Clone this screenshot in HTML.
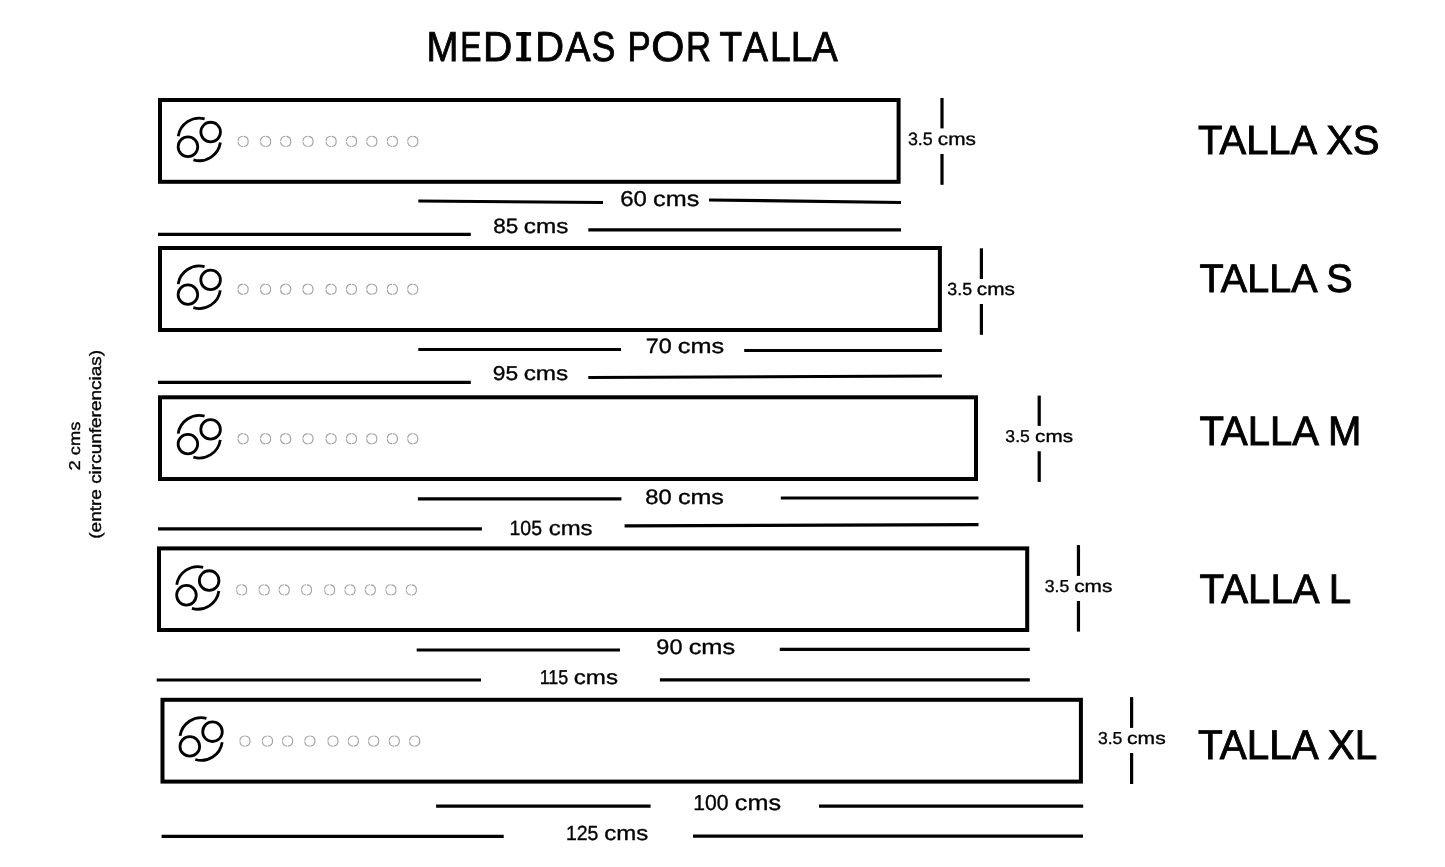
<!DOCTYPE html><html><head><meta charset="utf-8"><style>html,body{margin:0;padding:0;background:#fff;}svg{display:block}.texts{opacity:0.999}text{font-family:"Liberation Sans",sans-serif;fill:#000;text-rendering:geometricPrecision}</style></head><body>
<svg width="1445" height="867" viewBox="0 0 1445 867">
<g class="shapes">
<rect x="160.00" y="100.00" width="738.60" height="81.80" fill="none" stroke="#000" stroke-width="4"/>
<rect x="160.00" y="248.00" width="779.90" height="82.00" fill="none" stroke="#000" stroke-width="4"/>
<rect x="160.00" y="397.30" width="816.00" height="81.70" fill="none" stroke="#000" stroke-width="4"/>
<rect x="159.00" y="548.40" width="868.20" height="81.60" fill="none" stroke="#000" stroke-width="4"/>
<rect x="162.50" y="699.80" width="918.40" height="81.80" fill="none" stroke="#000" stroke-width="4"/>
<rect x="940.40" y="98.00" width="3.2" height="30.40" fill="#000"/><rect x="940.40" y="154.00" width="3.2" height="30.80" fill="#000"/>
<rect x="979.80" y="248.30" width="3.2" height="30.70" fill="#000"/><rect x="979.80" y="304.00" width="3.2" height="30.80" fill="#000"/>
<rect x="1037.60" y="395.60" width="3.2" height="30.30" fill="#000"/><rect x="1037.60" y="451.30" width="3.2" height="30.60" fill="#000"/>
<rect x="1076.85" y="545.10" width="3.2" height="30.80" fill="#000"/><rect x="1076.85" y="601.00" width="3.2" height="30.60" fill="#000"/>
<rect x="1130.00" y="697.10" width="3.2" height="30.80" fill="#000"/><rect x="1130.00" y="753.00" width="3.2" height="31.00" fill="#000"/>
<line x1="418.3" y1="201" x2="603" y2="202.5" stroke="#000" stroke-width="3.2"/>
<line x1="709" y1="200" x2="901" y2="202.5" stroke="#000" stroke-width="3.2"/>
<line x1="158" y1="234.4" x2="470.8" y2="234.4" stroke="#000" stroke-width="3.2"/>
<line x1="588.3" y1="229.9" x2="901" y2="229.9" stroke="#000" stroke-width="3.2"/>
<line x1="418.3" y1="349.5" x2="621" y2="349.5" stroke="#000" stroke-width="3.2"/>
<line x1="744.2" y1="350.5" x2="941.9" y2="350.5" stroke="#000" stroke-width="3.2"/>
<line x1="158" y1="382.3" x2="470.8" y2="382.3" stroke="#000" stroke-width="3.2"/>
<line x1="588.3" y1="377.5" x2="941.9" y2="376" stroke="#000" stroke-width="3.2"/>
<line x1="417.9" y1="498.9" x2="621.4" y2="498.9" stroke="#000" stroke-width="3.2"/>
<line x1="780.8" y1="498" x2="978.5" y2="498" stroke="#000" stroke-width="3.2"/>
<line x1="158" y1="528.9" x2="481.9" y2="528.9" stroke="#000" stroke-width="3.2"/>
<line x1="624.6" y1="525.9" x2="978.5" y2="524.6" stroke="#000" stroke-width="3.2"/>
<line x1="416.7" y1="650" x2="620" y2="650" stroke="#000" stroke-width="3.2"/>
<line x1="779.8" y1="649.3" x2="1029.8" y2="649.3" stroke="#000" stroke-width="3.2"/>
<line x1="156.7" y1="680" x2="481" y2="680" stroke="#000" stroke-width="3.2"/>
<line x1="659.9" y1="679.8" x2="1029.8" y2="679.8" stroke="#000" stroke-width="3.2"/>
<line x1="436.1" y1="806.2" x2="650.6" y2="806.2" stroke="#000" stroke-width="3.2"/>
<line x1="819" y1="806.2" x2="1083.2" y2="806.2" stroke="#000" stroke-width="3.2"/>
<line x1="161.6" y1="836.4" x2="503.7" y2="836.4" stroke="#000" stroke-width="3.2"/>
<line x1="693" y1="836.1" x2="1083" y2="836.1" stroke="#000" stroke-width="3.2"/>
<g fill="none" stroke="#000" stroke-width="2.8"><path d="M178.23 136.25A21.3 21.3 0 0 1 204.63 118.78 M220.37 142.55A21.3 21.3 0 0 1 193.43 159.87" /><circle cx="210.65" cy="132.05" r="9.8"/><circle cx="187.95" cy="146.75" r="9.8"/></g>
<g fill="none" stroke="#a0a0a0" stroke-width="1.1" stroke-dasharray="7.2 0.8"><circle cx="243.10" cy="141.40" r="5.1"/><circle cx="265.60" cy="141.40" r="5.1"/><circle cx="285.70" cy="141.40" r="5.1"/><circle cx="308.00" cy="141.40" r="5.1"/><circle cx="331.10" cy="141.40" r="5.1"/><circle cx="351.50" cy="141.40" r="5.1"/><circle cx="371.80" cy="141.40" r="5.1"/><circle cx="392.40" cy="141.40" r="5.1"/><circle cx="412.80" cy="141.40" r="5.1"/></g>
<g fill="none" stroke="#000" stroke-width="2.8"><path d="M178.18 284.10A21.3 21.3 0 0 1 204.58 266.63 M220.32 290.40A21.3 21.3 0 0 1 193.38 307.72" /><circle cx="210.60" cy="279.90" r="9.8"/><circle cx="187.90" cy="294.60" r="9.8"/></g>
<g fill="none" stroke="#a0a0a0" stroke-width="1.1" stroke-dasharray="7.2 0.8"><circle cx="243.05" cy="289.25" r="5.1"/><circle cx="265.55" cy="289.25" r="5.1"/><circle cx="285.65" cy="289.25" r="5.1"/><circle cx="307.95" cy="289.25" r="5.1"/><circle cx="331.05" cy="289.25" r="5.1"/><circle cx="351.45" cy="289.25" r="5.1"/><circle cx="371.75" cy="289.25" r="5.1"/><circle cx="392.35" cy="289.25" r="5.1"/><circle cx="412.75" cy="289.25" r="5.1"/></g>
<g fill="none" stroke="#000" stroke-width="2.8"><path d="M178.18 433.60A21.3 21.3 0 0 1 204.58 416.13 M220.32 439.90A21.3 21.3 0 0 1 193.38 457.22" /><circle cx="210.60" cy="429.40" r="9.8"/><circle cx="187.90" cy="444.10" r="9.8"/></g>
<g fill="none" stroke="#a0a0a0" stroke-width="1.1" stroke-dasharray="7.2 0.8"><circle cx="243.05" cy="438.75" r="5.1"/><circle cx="265.55" cy="438.75" r="5.1"/><circle cx="285.65" cy="438.75" r="5.1"/><circle cx="307.95" cy="438.75" r="5.1"/><circle cx="331.05" cy="438.75" r="5.1"/><circle cx="351.45" cy="438.75" r="5.1"/><circle cx="371.75" cy="438.75" r="5.1"/><circle cx="392.35" cy="438.75" r="5.1"/><circle cx="412.75" cy="438.75" r="5.1"/></g>
<g fill="none" stroke="#000" stroke-width="2.8"><path d="M176.73 584.75A21.3 21.3 0 0 1 203.13 567.28 M218.87 591.05A21.3 21.3 0 0 1 191.93 608.37" /><circle cx="209.15" cy="580.55" r="9.8"/><circle cx="186.45" cy="595.25" r="9.8"/></g>
<g fill="none" stroke="#a0a0a0" stroke-width="1.1" stroke-dasharray="7.2 0.8"><circle cx="241.60" cy="589.90" r="5.1"/><circle cx="264.10" cy="589.90" r="5.1"/><circle cx="284.20" cy="589.90" r="5.1"/><circle cx="306.50" cy="589.90" r="5.1"/><circle cx="329.60" cy="589.90" r="5.1"/><circle cx="350.00" cy="589.90" r="5.1"/><circle cx="370.30" cy="589.90" r="5.1"/><circle cx="390.90" cy="589.90" r="5.1"/><circle cx="411.30" cy="589.90" r="5.1"/></g>
<g fill="none" stroke="#000" stroke-width="2.8"><path d="M180.08 735.90A21.3 21.3 0 0 1 206.48 718.43 M222.22 742.20A21.3 21.3 0 0 1 195.28 759.52" /><circle cx="212.50" cy="731.70" r="9.8"/><circle cx="189.80" cy="746.40" r="9.8"/></g>
<g fill="none" stroke="#a0a0a0" stroke-width="1.1" stroke-dasharray="7.2 0.8"><circle cx="244.95" cy="741.05" r="5.1"/><circle cx="267.45" cy="741.05" r="5.1"/><circle cx="287.55" cy="741.05" r="5.1"/><circle cx="309.85" cy="741.05" r="5.1"/><circle cx="332.95" cy="741.05" r="5.1"/><circle cx="353.35" cy="741.05" r="5.1"/><circle cx="373.65" cy="741.05" r="5.1"/><circle cx="394.25" cy="741.05" r="5.1"/><circle cx="414.65" cy="741.05" r="5.1"/></g>
<g fill="#000"><rect x="516.2" y="32.1" width="14.9" height="3.7"/><rect x="521.2" y="32.1" width="5.3" height="29.1"/><rect x="516.2" y="57.5" width="14.9" height="3.7"/></g>
</g><g class="texts">
<text id="ti0" font-size="41.831" stroke="#000" stroke-width="0.9" transform="translate(426.618 61.132) rotate(0) scale(0.9156 1)">M</text>
<text id="ti1" font-size="41.831" stroke="#000" stroke-width="0.9" transform="translate(460.320 61.139) rotate(0) scale(0.7612 1)">E</text>
<text id="ti2" font-size="41.831" stroke="#000" stroke-width="0.9" transform="translate(482.931 61.318) rotate(0) scale(0.9712 1)">D</text>
<text id="ti4" font-size="41.831" stroke="#000" stroke-width="0.9" transform="translate(535.164 61.295) rotate(0) scale(0.9543 1)">D</text>
<text id="ti5" font-size="41.831" stroke="#000" stroke-width="0.9" transform="translate(565.519 61.157) rotate(0) scale(0.8924 1)">A</text>
<text id="ti6" font-size="41.831" stroke="#000" stroke-width="0.9" transform="translate(591.599 61.132) rotate(0) scale(0.8546 1)">S</text>
<text id="ti7" font-size="41.831" stroke="#000" stroke-width="0.9" transform="translate(627.464 61.266) rotate(0) scale(0.8309 1)">P</text>
<text id="ti8" font-size="41.831" stroke="#000" stroke-width="0.9" transform="translate(651.195 61.132) rotate(0) scale(1.0213 1)">O</text>
<text id="ti9" font-size="41.831" stroke="#000" stroke-width="0.9" transform="translate(685.956 61.296) rotate(0) scale(0.8277 1)">R</text>
<text id="ti10" font-size="41.831" stroke="#000" stroke-width="0.9" transform="translate(719.604 61.187) rotate(0) scale(0.8834 1)">T</text>
<text id="ti11" font-size="41.831" stroke="#000" stroke-width="0.9" transform="translate(742.639 61.163) rotate(0) scale(0.9012 1)">A</text>
<text id="ti12" font-size="41.831" stroke="#000" stroke-width="0.9" transform="translate(769.913 61.143) rotate(0) scale(0.8899 1)">L</text>
<text id="ti13" font-size="41.831" stroke="#000" stroke-width="0.9" transform="translate(790.798 61.186) rotate(0) scale(0.9294 1)">L</text>
<text id="ti14" font-size="41.831" stroke="#000" stroke-width="0.9" transform="translate(812.266 61.153) rotate(0) scale(0.9132 1)">A</text>
<text id="tXS" font-size="40.673" stroke="#000" stroke-width="0.9" transform="translate(1198.007 154.422) rotate(0) scale(0.9834 1)">TALLA XS</text>
<text id="tS" font-size="39.858" stroke="#000" stroke-width="0.9" transform="translate(1199.578 292.068) rotate(0) scale(0.9923 1)">TALLA S</text>
<text id="tM" font-size="40.986" stroke="#000" stroke-width="0.9" transform="translate(1199.431 445.395) rotate(0) scale(0.9782 1)">TALLA M</text>
<text id="tL" font-size="41.268" stroke="#000" stroke-width="0.9" transform="translate(1199.568 602.515) rotate(0) scale(0.9767 1)">TALLA L</text>
<text id="tXL" font-size="41.549" stroke="#000" stroke-width="0.9" transform="translate(1198.039 759.205) rotate(0) scale(0.9738 1)">TALLA XL</text>
<text id="hXSn" font-size="17.887" stroke="#000" stroke-width="0.35" transform="translate(907.917 145.380) rotate(0) scale(1.0008 1)">3.5</text>
<text id="hXSc" font-size="17.887" stroke="#000" stroke-width="0.35" transform="translate(937.783 145.380) rotate(0) scale(1.1630 1)">cms</text>
<text id="hSn" font-size="17.606" stroke="#000" stroke-width="0.35" transform="translate(947.312 295.335) rotate(0) scale(1.0101 1)">3.5</text>
<text id="hSc" font-size="17.606" stroke="#000" stroke-width="0.35" transform="translate(976.825 295.335) rotate(0) scale(1.1819 1)">cms</text>
<text id="hMn" font-size="17.042" stroke="#000" stroke-width="0.35" transform="translate(1005.362 442.212) rotate(0) scale(1.0308 1)">3.5</text>
<text id="hMc" font-size="17.042" stroke="#000" stroke-width="0.35" transform="translate(1035.041 442.212) rotate(0) scale(1.2152 1)">cms</text>
<text id="hLn" font-size="17.324" stroke="#000" stroke-width="0.35" transform="translate(1044.773 592.140) rotate(0) scale(1.0146 1)">3.5</text>
<text id="hLc" font-size="17.324" stroke="#000" stroke-width="0.35" transform="translate(1074.159 592.140) rotate(0) scale(1.2010 1)">cms</text>
<text id="hXLn" font-size="17.324" stroke="#000" stroke-width="0.35" transform="translate(1097.949 743.581) rotate(0) scale(1.0145 1)">3.5</text>
<text id="hXLc" font-size="17.324" stroke="#000" stroke-width="0.35" transform="translate(1127.068 743.581) rotate(0) scale(1.2166 1)">cms</text>
<text id="d60n" font-size="21.549" stroke="#000" stroke-width="0.35" transform="translate(620.127 205.576) rotate(0) scale(1.1156 1)">60</text>
<text id="d60c" font-size="21.549" stroke="#000" stroke-width="0.35" transform="translate(653.076 205.576) rotate(0) scale(1.1704 1)">cms</text>
<text id="d85n" font-size="20.685" stroke="#000" stroke-width="0.35" transform="translate(493.273 232.513) rotate(0) scale(1.0873 1)">85</text>
<text id="d85c" font-size="20.685" stroke="#000" stroke-width="0.35" transform="translate(523.819 232.513) rotate(0) scale(1.1737 1)">cms</text>
<text id="d70n" font-size="20.780" stroke="#000" stroke-width="0.35" transform="translate(645.868 353.384) rotate(0) scale(1.1256 1)">70</text>
<text id="d70c" font-size="20.780" stroke="#000" stroke-width="0.35" transform="translate(677.865 353.384) rotate(0) scale(1.2163 1)">cms</text>
<text id="d95n" font-size="20.000" stroke="#000" stroke-width="0.35" transform="translate(492.837 380.160) rotate(0) scale(1.1406 1)">95</text>
<text id="d95c" font-size="20.000" stroke="#000" stroke-width="0.35" transform="translate(523.627 380.160) rotate(0) scale(1.2146 1)">cms</text>
<text id="d80n" font-size="20.787" stroke="#000" stroke-width="0.35" transform="translate(645.337 503.511) rotate(0) scale(1.1433 1)">80</text>
<text id="d80c" font-size="20.787" stroke="#000" stroke-width="0.35" transform="translate(677.939 503.511) rotate(0) scale(1.2071 1)">cms</text>
<text id="d105n" font-size="20.563" stroke="#000" stroke-width="0.35" transform="translate(509.506 534.551) rotate(0) scale(0.9483 1)">105</text>
<text id="d105c" font-size="20.563" stroke="#000" stroke-width="0.35" transform="translate(548.680 534.551) rotate(0) scale(1.1654 1)">cms</text>
<text id="d90n" font-size="21.035" stroke="#000" stroke-width="0.35" transform="translate(656.327 653.811) rotate(0) scale(1.1193 1)">90</text>
<text id="d90c" font-size="21.035" stroke="#000" stroke-width="0.35" transform="translate(688.670 653.811) rotate(0) scale(1.2052 1)">cms</text>
<text id="d115n" font-size="20.001" stroke="#000" stroke-width="0.35" transform="translate(539.663 683.708) rotate(0) scale(0.8959 1)">115</text>
<text id="d115c" font-size="20.001" stroke="#000" stroke-width="0.35" transform="translate(573.793 683.708) rotate(0) scale(1.2041 1)">cms</text>
<text id="d100n" font-size="21.690" stroke="#000" stroke-width="0.35" transform="translate(693.176 809.687) rotate(0) scale(0.9753 1)">100</text>
<text id="d100c" font-size="21.690" stroke="#000" stroke-width="0.35" transform="translate(734.854 809.687) rotate(0) scale(1.1609 1)">cms</text>
<text id="d125n" font-size="20.423" stroke="#000" stroke-width="0.35" transform="translate(565.946 840.485) rotate(0) scale(0.9540 1)">125</text>
<text id="d125c" font-size="20.423" stroke="#000" stroke-width="0.35" transform="translate(604.194 840.485) rotate(0) scale(1.1757 1)">cms</text>
<text id="r2" font-size="15.685" stroke="#000" stroke-width="0.35" transform="translate(79.800 470.429) rotate(-90) scale(1.1671 1)">2 cms</text>
<text id="rent" font-size="16.464" stroke="#000" stroke-width="0.35" transform="translate(100.665 538.718) rotate(-90) scale(1.1534 1)">(entre circunferencias)</text>
</g></svg></body></html>
